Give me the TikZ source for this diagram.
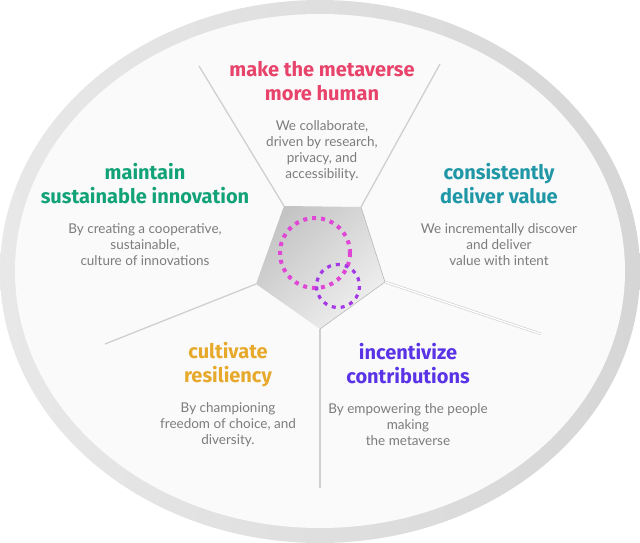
\documentclass[tikz,border=0pt]{standalone}
\usepackage{fontspec}
\setmainfont{Fira Sans}
\newfontfamily\bodyfont{Lato}
\usetikzlibrary{positioning}
\definecolor{ringlight}{HTML}{E8E8E8}
\definecolor{ringdark}{HTML}{D6D6D6}
\definecolor{innerfill}{HTML}{FAFAFA}
\definecolor{pentdark}{HTML}{C4C4C4}
\definecolor{pentlight}{HTML}{F0F0F0}
\definecolor{spokegray}{HTML}{CFCFCF}
\definecolor{bodygray}{HTML}{7C7C7C}
\definecolor{titlepink}{HTML}{E8436B}
\definecolor{titlegreen}{HTML}{12A278}
\definecolor{titleteal}{HTML}{1F97A6}
\definecolor{titleyellow}{HTML}{E6A92B}
\definecolor{titleviolet}{HTML}{5A33E6}
\definecolor{dashpink}{HTML}{E046D6}
\definecolor{dashviolet}{HTML}{A437E6}

\begin{document}
\begin{tikzpicture}[x=1pt, y=-1pt,
  node distance=19pt,
  title/.style={font=\fontsize{20}{24}\selectfont\bfseries, align=center, inner sep=0pt},
  body/.style={font=\bodyfont\fontsize{13.5}{16}\selectfont, text=bodygray, align=center, inner sep=0pt},
  spoke/.style={draw=spokegray, line width=1.3pt},
  dashring/.style={dash pattern=on 4pt off 5pt, line width=4pt},
]
  \useasboundingbox (0,0) rectangle (640,543);

  % Outer ring
  \shade[left color=ringlight, right color=ringdark]
    (320,271.5) ellipse [x radius=320, y radius=271.5];
  \fill[innerfill] (320,271) ellipse [x radius=305, y radius=257];

  % Pentagon corners and spoke ends
  \coordinate (p1) at (284,206);
  \coordinate (p2) at (361,207);
  \coordinate (p3) at (385,282);
  \coordinate (p4) at (320,329);
  \coordinate (p5) at (256,284);
  \coordinate (e1) at (199,66);
  \coordinate (e2) at (440,64);
  \coordinate (e3) at (541,334);
  \coordinate (e4) at (320,488);
  \coordinate (e5) at (105,344);

  % Spokes
  \draw[spoke] (p1) -- (e1);
  \draw[spoke] (p2) -- (e2);
  \draw[draw=spokegray, line width=0.6pt, double=white, double distance=1.4pt] (p3) -- (e3);
  \draw[spoke] (p4) -- (e4);
  \draw[spoke] (p5) -- (e5);

  % Center pentagon
  \shade[top color=pentdark, bottom color=pentlight, shading angle=45]
    (p1) -- (p2) -- (p3) -- (p4) -- (p5) -- cycle;
  \draw[gray!55, line width=0.6pt] (p2) -- (p3) -- (p4);

  % Dashed circles
  \draw[dashring, draw=dashpink] (315,253) circle [radius=35];
  \draw[dashring, draw=dashviolet, line width=3.2pt] (338,286) circle [radius=21.5];

  % Titles
  \node[title, text=titlepink]   (human)  at (322,81)  {make the metaverse\\more human};
  \node[title, text=titlegreen]  (innov)  at (145,184) {maintain\\sustainable innovation};
  \node[title, text=titleteal]   (value)  at (499,184) {consistently\\deliver value};
  \node[title, text=titleyellow] (resil)  at (228,365) {cultivate\\resiliency};
  \node[title, text=titleviolet] (contri) at (408,364) {incentivize\\contributions};

  % Descriptions
  \node[body, below=of human]  (humanTxt)  {We collaborate,\\driven by research,\\privacy, and\\accessibility.};
  \node[body, below=of innov]  (innovTxt)  {By creating a cooperative,\\sustainable,\\culture of innovations};
  \node[body, below=of value]  (valueTxt)  {We incrementally discover\\and deliver\\value with intent};
  \node[body, below=15pt of resil] (resilTxt) {By championing\\freedom of choice, and\\diversity.};
  \node[body, below=of contri] (contriTxt) {By empowering the people\\making\\the metaverse};
\end{tikzpicture}
\end{document}
